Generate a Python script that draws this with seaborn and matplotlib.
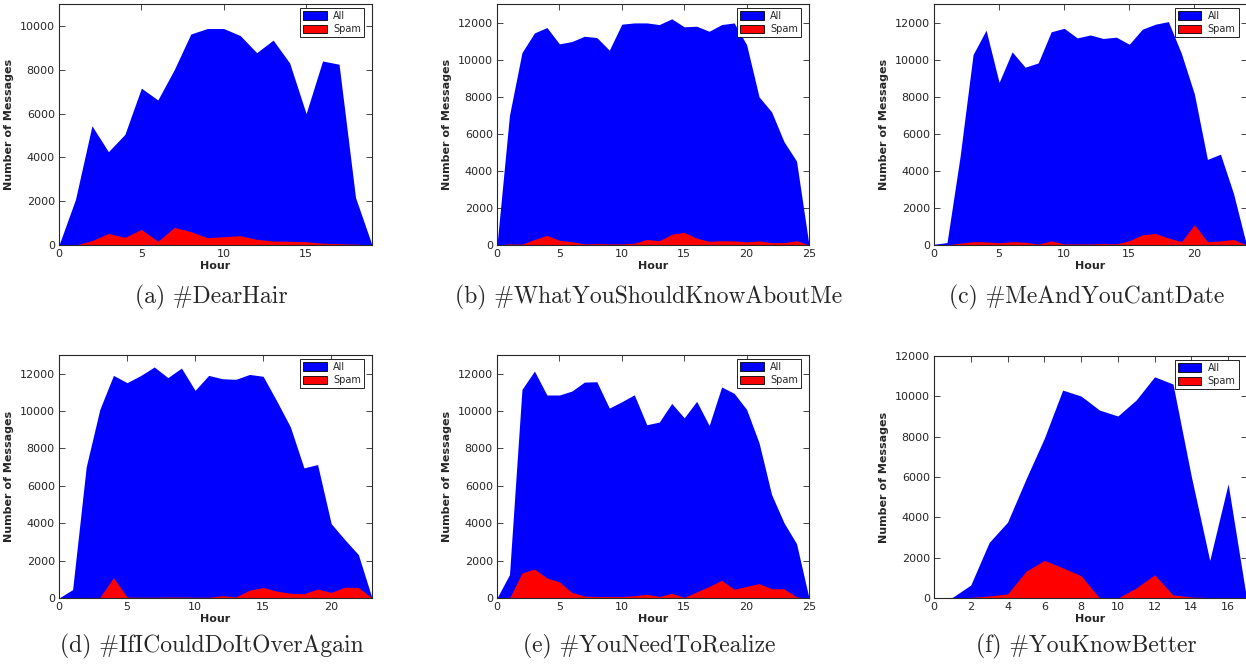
import matplotlib
matplotlib.use('Agg')
import matplotlib.pyplot as plt
import seaborn as sns
import numpy as np

# Mensagens por hora (All / Spam) para cada hashtag
dearhair_all = [0, 2080, 5440, 4260, 5050, 7160, 6620, 8010, 9630, 9880, 9880, 9560, 8780, 9350, 8310, 6000, 8400, 8250, 2170, 0]
dearhair_spam = [0, 0, 200, 530, 350, 715, 170, 805, 610, 335, 380, 425, 260, 180, 170, 150, 80, 60, 40, 0]

whatyou_all = [0, 7000, 10380, 11440, 11730, 10850, 10975, 11260, 11190, 10510, 11910, 11980, 11980, 11890, 12200,
               11770, 11800, 11530, 11890, 11980, 10810, 7990, 7185, 5570, 4530, 0]
whatyou_spam = [0, 60, 50, 300, 520, 250, 180, 60, 80, 60, 60, 100, 300, 230, 580, 680, 370, 200, 230, 220, 170,
                220, 130, 130, 230, 0]

meandyou_all = [40, 130, 4760, 10270, 11590, 8770, 10420, 9590, 9820, 11500, 11690, 11170, 11330, 11140, 11210,
                10830, 11640, 11910, 12050, 10330, 8140, 4615, 4900, 2785, 0]
meandyou_spam = [0, 0, 100, 180, 170, 120, 180, 150, 50, 220, 60, 60, 60, 80, 60, 230, 550, 620, 380, 180, 1095,
                 180, 220, 300, 0]

ificould_all = [0, 450, 7020, 10090, 11910, 11520, 11900, 12360, 11790, 12300, 11110, 11910, 11730, 11700, 11960,
                11860, 10540, 9160, 6960, 7140, 3980, 3125, 2320, 0]
ificould_spam = [0, 0, 30, 30, 1090, 50, 40, 40, 50, 50, 40, 40, 120, 60, 420, 560, 370, 250, 230, 480, 300, 580,
                 560, 0]

youneed_all = [0, 1250, 11160, 12140, 10860, 10860, 11070, 11550, 11570, 10160, 10500, 10870, 9270, 9410, 10410,
               9640, 10520, 9230, 11290, 10950, 10090, 8300, 5540, 4020, 2910, 0]
youneed_spam = [0, 0, 1340, 1550, 1070, 860, 300, 100, 80, 80, 80, 120, 200, 80, 250, 30, 330, 620, 950, 470, 620,
                770, 500, 490, 60, 0]

youknow_all = [0, 30, 645, 2755, 3760, 5890, 7920, 10310, 10015, 9320, 9025, 9820, 10970, 10610, 6020, 1865, 5660, 0]
youknow_spam = [0, 0, 30, 100, 200, 1320, 1865, 1500, 1105, 0, 0, 500, 1155, 150, 50, 20, 0, 0]

captions = ['(a) #DearHair', '(b) #WhatYouShouldKnowAboutMe', '(c) #MeAndYouCantDate',
            '(d) #IfICouldDoItOverAgain', '(e) #YouNeedToRealize', '(f) #YouKnowBetter']
series = [(dearhair_all, dearhair_spam), (whatyou_all, whatyou_spam), (meandyou_all, meandyou_spam),
          (ificould_all, ificould_spam), (youneed_all, youneed_spam), (youknow_all, youknow_spam)]
y_tops = [11000, 13000, 13000, 13000, 13000, 12000]
x_steps = [5, 5, 5, 5, 5, 2]

sns.set_style('ticks')
plt.rcParams['font.family'] = ['DejaVu Sans']

W, H = 1246, 666
fig = plt.figure(figsize=(W / 100, H / 100), dpi=100)

# posicoes em pixels: (esquerda, topo, direita, base)
boxes = [(59, 4, 372, 245), (497, 4, 809, 245), (934, 4, 1246.5, 245),
         (59, 355, 372, 598), (497, 355, 809, 598), (934, 356, 1246.5, 598)]

for i, (all_msgs, spam_msgs) in enumerate(series):
    l, t, r, b = boxes[i]
    ax = fig.add_axes([l / W, 1 - b / H, (r - l) / W, (b - t) / H])
    hours = np.arange(len(all_msgs))
    ax.fill_between(hours, 0, all_msgs, color='#0000ff', linewidth=0, label='All')
    ax.fill_between(hours, 0, spam_msgs, color='#ff0000', linewidth=0, label='Spam')
    ax.set_xlim(0, len(all_msgs) - 1)
    ax.set_ylim(0, y_tops[i])
    ax.set_xticks(np.arange(0, len(all_msgs), x_steps[i]))
    ax.set_yticks(np.arange(0, y_tops[i] + 1, 2000))
    ax.tick_params(direction='in', top=True, right=True, labelsize=8, length=4, width=0.6, pad=3)
    for s in ax.spines.values():
        s.set_linewidth(0.8)
    ax.set_xlabel('Hour', fontsize=8, fontweight='bold', labelpad=1)
    ax.set_ylabel('Number of Messages', fontsize=8, fontweight='bold', labelpad=4)
    # handles com borda preta como na legenda original
    handles = [plt.Rectangle((0, 0), 1, 1, facecolor='#0000ff', edgecolor='black', linewidth=0.6),
               plt.Rectangle((0, 0), 1, 1, facecolor='#ff0000', edgecolor='black', linewidth=0.6)]
    leg = ax.legend(handles, ['All', 'Spam'], loc='upper right', bbox_to_anchor=(1 - 4 / (r - l), 1),
                    fontsize=7, fancybox=False, edgecolor='black', framealpha=1, borderpad=0.3,
                    handlelength=2.4, handleheight=1.0, labelspacing=0.35, handletextpad=0.7,
                    borderaxespad=0.4)
    leg.get_frame().set_linewidth(0.6)
    cy = 297 if i < 3 else 646
    fig.text(((l + r) / 2 - 4) / W, 1 - cy / H, captions[i], ha='center', va='center',
             fontsize=17, family='cmr10')

fig.savefig('out.png', dpi=100)
